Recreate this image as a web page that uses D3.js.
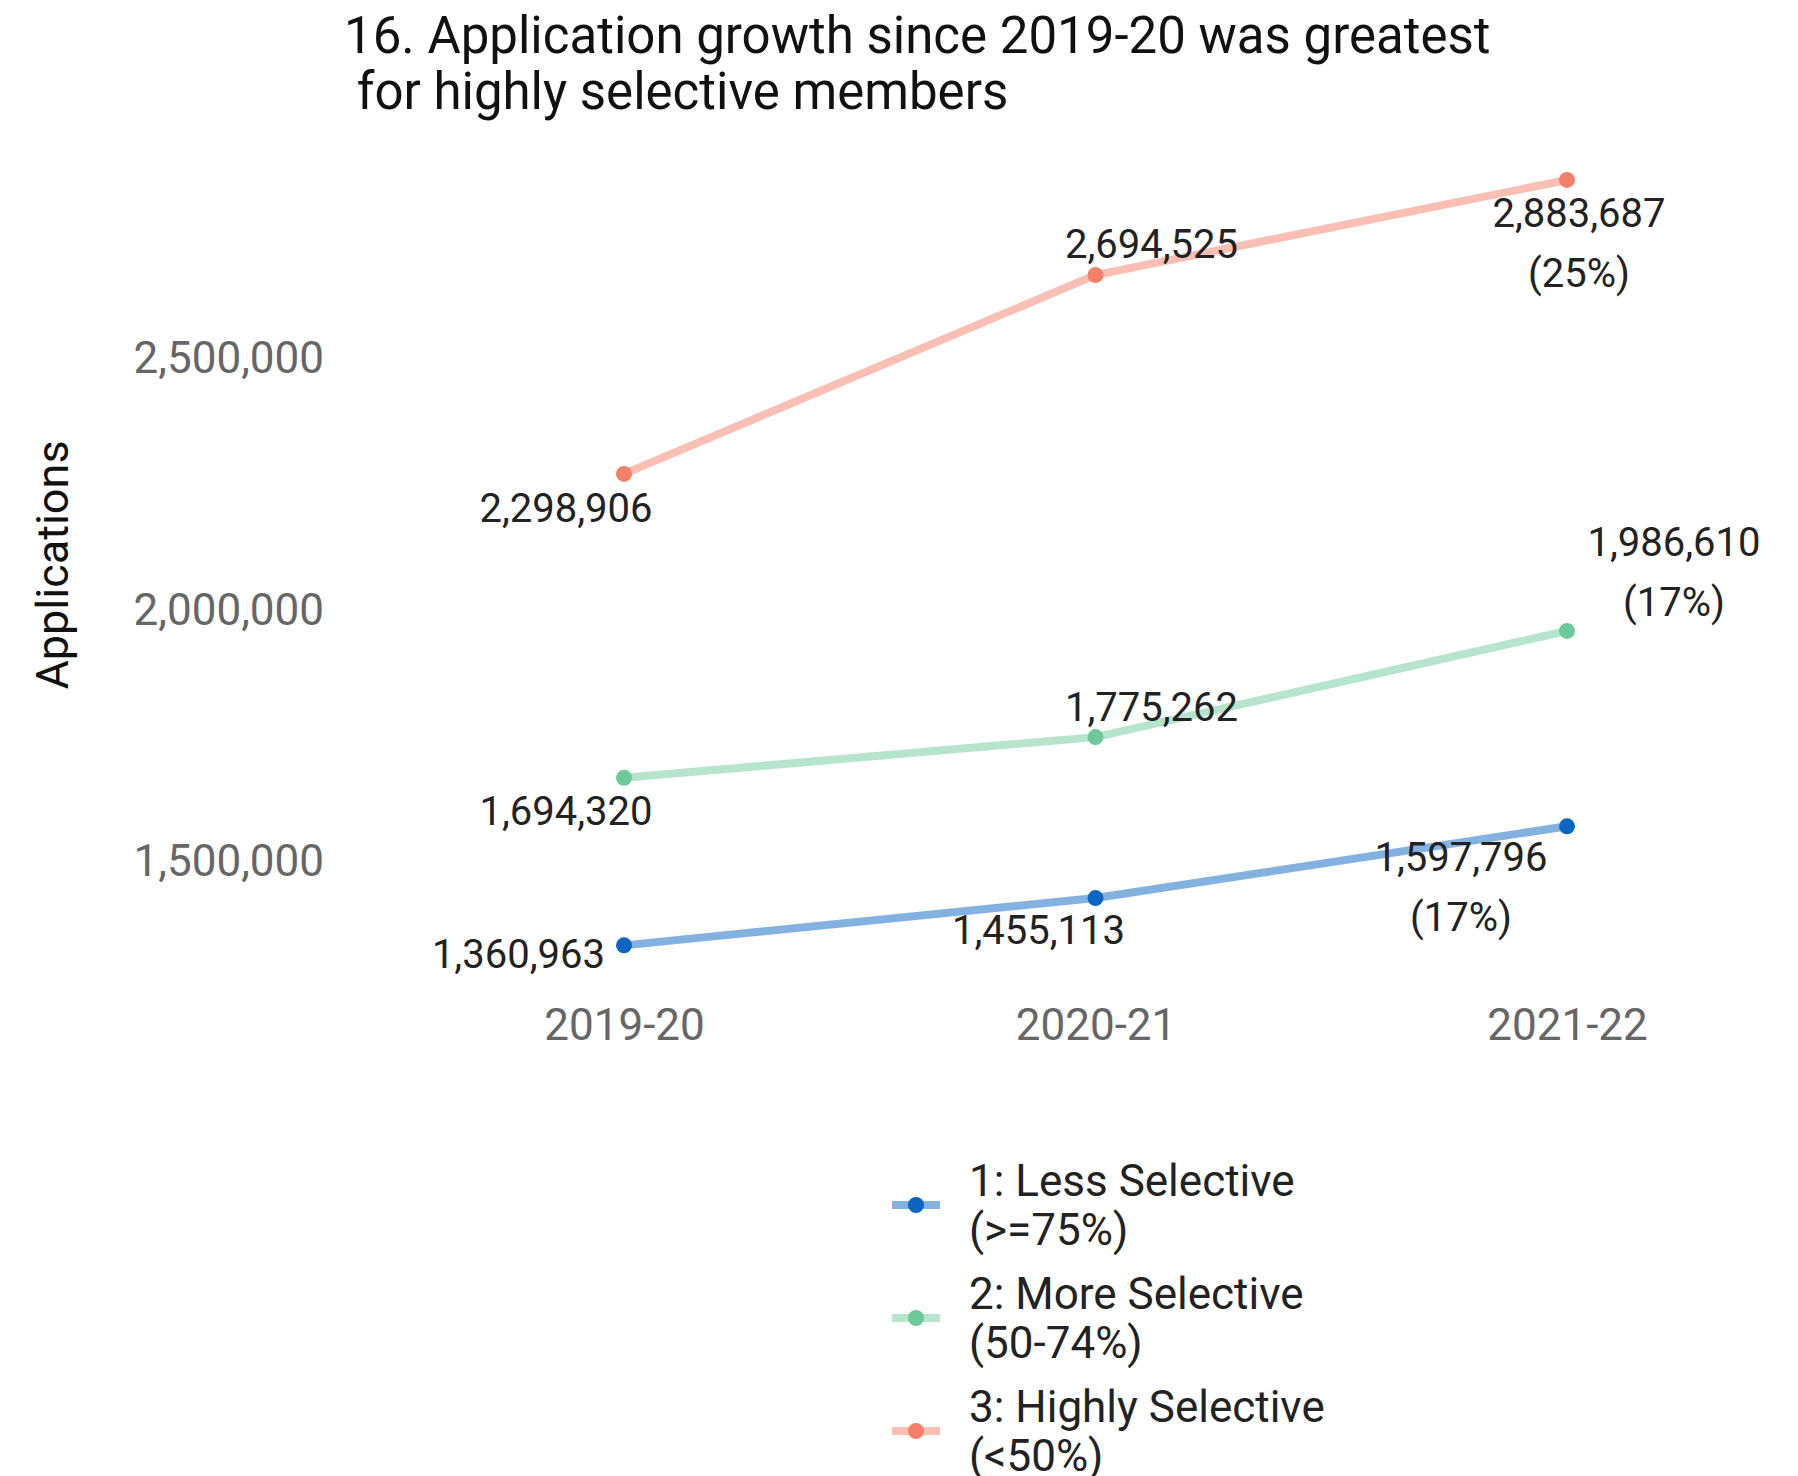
<!DOCTYPE html>
<html>
<head>
<meta charset="utf-8">
<script src="https://cdn.jsdelivr.net/npm/d3@7"></script>
<style>
  body { margin: 0; background: #fff; }
  text { font-family: Roboto, "Noto Sans", sans-serif; }
</style>
</head>
<body>
<div class="chart"></div>
<script>
// data
const years = ["2019-20", "2020-21", "2021-22"];
const seriesNames = ["1: Less Selective", "2: More Selective", "3: Highly Selective"];
const seriesRanges = ["(>=75%)", "(50-74%)", "(<50%)"];
const lessSelective = [1360963, 1455113, 1597796];
const moreSelective = [1694320, 1775262, 1986610];
const highlySelective = [2298906, 2694525, 2883687];
const growth = ["(17%)", "(17%)", "(25%)"];
const yTicks = [1500000, 2000000, 2500000];

const colors = ["#0a66c2", "#6dc99a", "#f4806a"];

// label offsets from each point (layout only): [dx, dy, anchor]
const labelNudge = [
    [[-19, 9, "end"], [-57, 32, "middle"], [-106, 31, "middle"]],
    [[-58, 33, "middle"], [56, -30, "middle"], [107, -89, "middle"]],
    [[-58, 34, "middle"], [56, -31, "middle"], [12, 33, "middle"]]
];

const series = [lessSelective, moreSelective, highlySelective];

const width = 1798, height = 1476;

const svg = d3.select(".chart").append("svg")
    .attr("width", width)
    .attr("height", height);

const x = d3.scalePoint()
    .domain(years)
    .range([624, 1567]);

const y = d3.scaleLinear()
    .domain([1300000, 3000000])
    .range([976, 121.5]);

// title
const title = svg.append("text")
    .attr("x", 344)
    .attr("y", 53)
    .attr("font-size", 51)
    .attr("fill", "#111");
title.append("tspan").attr("x", 344).text("16. Application growth since 2019-20 was greatest");
title.append("tspan").attr("x", 344).attr("dy", 56).attr("xml:space", "preserve").text(" for highly selective members");

// y axis, labels only
const yAxis = svg.append("g")
    .attr("transform", "translate(324,0)")
    .call(d3.axisLeft(y).tickValues(yTicks).tickFormat(d3.format(",")).tickSize(0).tickPadding(0));
yAxis.select(".domain").remove();
yAxis.selectAll("text")
    .attr("font-family", "Roboto")
    .attr("font-size", 44)
    .attr("fill", "#666")
    .attr("dy", "0em");

// x axis, labels only
const xAxis = svg.append("g")
    .attr("transform", "translate(0,1009)")
    .call(d3.axisBottom(x).tickSize(0).tickPadding(0));
xAxis.select(".domain").remove();
xAxis.selectAll("text")
    .attr("font-family", "Roboto")
    .attr("font-size", 44)
    .attr("fill", "#666")
    .attr("dy", "0.71em");

// y axis title
svg.append("text")
    .attr("transform", "translate(68,565) rotate(-90)")
    .attr("text-anchor", "middle")
    .attr("font-family", "Liberation Sans")
    .attr("font-size", 45)
    .attr("fill", "#111")
    .text("Applications");

const line = d3.line()
    .x((d, i) => x(years[i]))
    .y(d => y(d));

// lines
svg.selectAll("path.series")
    .data(series)
    .enter().append("path")
    .attr("class", "series")
    .attr("d", d => line(d))
    .attr("fill", "none")
    .attr("stroke", (d, i) => colors[i])
    .attr("stroke-opacity", 0.5)
    .attr("stroke-width", 8);

// points
series.forEach((s, si) => {
    svg.selectAll("circle.s" + si)
        .data(s)
        .enter().append("circle")
        .attr("class", "s" + si)
        .attr("cx", (d, i) => x(years[i]))
        .attr("cy", d => y(d))
        .attr("r", 8)
        .attr("fill", colors[si]);

    // value labels
    svg.selectAll("text.l" + si)
        .data(s)
        .enter().append("text")
        .attr("class", "l" + si)
        .attr("x", (d, i) => x(years[i]) + labelNudge[si][i][0])
        .attr("y", (d, i) => y(d) + labelNudge[si][i][1])
        .attr("dy", "0.35em")
        .attr("text-anchor", (d, i) => labelNudge[si][i][2])
        .attr("font-size", 40)
        .attr("fill", "#222")
        .text(d => d3.format(",")(d));

    // growth label under the last value
    const last = s.length - 1;
    svg.append("text")
        .attr("x", x(years[last]) + labelNudge[si][last][0])
        .attr("y", y(s[last]) + labelNudge[si][last][1] + 60)
        .attr("dy", "0.35em")
        .attr("text-anchor", "middle")
        .attr("font-size", 40)
        .attr("fill", "#222")
        .text(growth[si]);
});

// legend
const legend = svg.append("g");
seriesNames.forEach((name, i) => {
    const cy = 1205 + i * 113;
    legend.append("line")
        .attr("x1", 892).attr("x2", 940)
        .attr("y1", cy).attr("y2", cy)
        .attr("stroke", colors[i])
        .attr("stroke-opacity", 0.5)
        .attr("stroke-width", 8);
    legend.append("circle")
        .attr("cx", 916).attr("cy", cy)
        .attr("r", 8)
        .attr("fill", colors[i]);
    legend.append("text")
        .attr("x", 969).attr("y", cy - 24)
        .attr("dy", "0.35em")
        .attr("font-size", 44)
        .attr("fill", "#222")
        .text(name);
    legend.append("text")
        .attr("x", 969).attr("y", cy + 25)
        .attr("dy", "0.35em")
        .attr("font-size", 44)
        .attr("fill", "#222")
        .text(seriesRanges[i]);
});
</script>
</body>
</html>
